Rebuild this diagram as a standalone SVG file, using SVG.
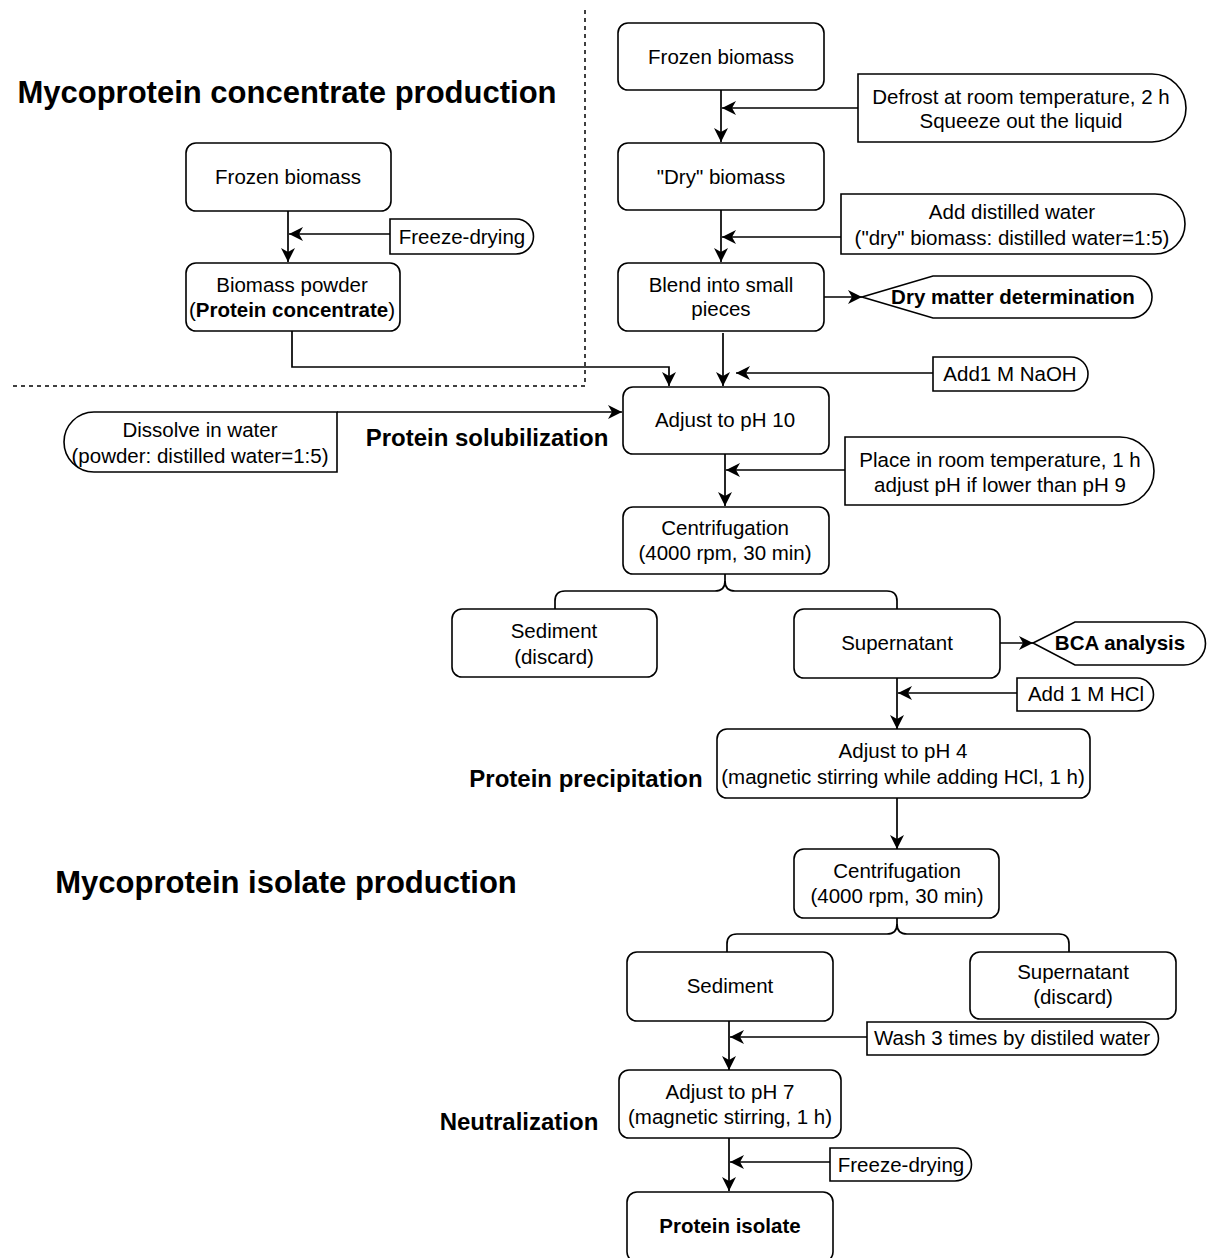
<svg xmlns="http://www.w3.org/2000/svg" width="1208" height="1258" viewBox="0 0 1208 1258">
<style>
.box{fill:#fff;stroke:#000;stroke-width:1.6}
.ln{fill:none;stroke:#000;stroke-width:1.7}
.dash{fill:none;stroke:#000;stroke-width:1.5;stroke-dasharray:4 4}
text{font-family:"Liberation Sans",Arial,Helvetica,sans-serif;fill:#000;text-anchor:middle;dominant-baseline:central}
.t{font-size:20.5px}
.b{font-size:20.5px;font-weight:bold}
.h{font-size:24px;font-weight:bold}
.title{font-size:31px;font-weight:bold}
</style>
<defs>
<marker id="arr" viewBox="0 0 14 14" refX="14" refY="7" markerWidth="14" markerHeight="14" orient="auto" markerUnits="userSpaceOnUse">
<path d="M0,0 L14,7 L0,14 L4,7 Z" fill="#000"/>
</marker>
</defs>
<rect width="1208" height="1258" fill="#fff"/>

<g id="separators">
<path class="dash" d="M585,10 V386 H10"/>
</g>

<g id="headings">
<text class="title" x="287" y="92">Mycoprotein concentrate production</text>
<text class="title" x="286" y="882">Mycoprotein isolate production</text>
<text class="h" x="487" y="437">Protein solubilization</text>
<text class="h" x="586" y="778">Protein precipitation</text>
<text class="h" x="519" y="1121">Neutralization</text>
</g>

<g id="connectors">
<path class="ln" d="M288,211 V262" marker-end="url(#arr)"/>
<path class="ln" d="M390,234 H289" marker-end="url(#arr)"/>
<path class="ln" d="M292,331 V367 H669 V386" marker-end="url(#arr)"/>
<path class="ln" d="M721,90 V142" marker-end="url(#arr)"/>
<path class="ln" d="M858,108 H722" marker-end="url(#arr)"/>
<path class="ln" d="M721,210 V262" marker-end="url(#arr)"/>
<path class="ln" d="M841,237 H722" marker-end="url(#arr)"/>
<path class="ln" d="M824,297 H862" marker-end="url(#arr)"/>
<path class="ln" d="M723,333 V386" marker-end="url(#arr)"/>
<path class="ln" d="M933,373 H736" marker-end="url(#arr)"/>
<path class="ln" d="M337,412 H622" marker-end="url(#arr)"/>
<path class="ln" d="M725,454 V506" marker-end="url(#arr)"/>
<path class="ln" d="M845,470 H726" marker-end="url(#arr)"/>
<path class="ln" d="M725,574 V581 Q725,591 715,591 H565 Q555,591 555,601 V609"/>
<path class="ln" d="M725,581 Q725,591 735,591 H887 Q897,591 897,601 V609"/>
<path class="ln" d="M1000,643 H1033" marker-end="url(#arr)"/>
<path class="ln" d="M897,678 V729" marker-end="url(#arr)"/>
<path class="ln" d="M1017,693 H898" marker-end="url(#arr)"/>
<path class="ln" d="M897,798 V849" marker-end="url(#arr)"/>
<path class="ln" d="M897,918 V924 Q897,934 887,934 H737 Q727,934 727,944 V952"/>
<path class="ln" d="M897,924 Q897,934 907,934 H1059 Q1069,934 1069,944 V952"/>
<path class="ln" d="M729,1021 V1070" marker-end="url(#arr)"/>
<path class="ln" d="M867,1037 H730" marker-end="url(#arr)"/>
<path class="ln" d="M729,1138 V1191" marker-end="url(#arr)"/>
<path class="ln" d="M830,1162 H730" marker-end="url(#arr)"/>
</g>

<g id="frozen-left">
<rect class="box" x="186" y="143" width="205" height="68" rx="10"/>
<text class="t" x="288" y="176">Frozen biomass</text>
</g>
<g id="freeze-drying-left">
<path class="box" d="M390,219 H516 A17.5,17.5 0 0 1 516,254 H390 Z"/>
<text class="t" x="462" y="236">Freeze-drying</text>
</g>
<g id="biomass-powder">
<rect class="box" x="186" y="263" width="214" height="68" rx="10"/>
<text class="t" x="292" y="284">Biomass powder</text>
<text class="t" x="292" y="309">(<tspan font-weight="bold">Protein concentrate</tspan>)</text>
</g>

<g id="frozen-right">
<rect class="box" x="618" y="23" width="206" height="67" rx="10"/>
<text class="t" x="721" y="56">Frozen biomass</text>
</g>
<g id="defrost">
<path class="box" d="M858,74 H1152 A34,34 0 0 1 1152,142 H858 Z"/>
<text class="t" x="1021" y="96">Defrost at room temperature, 2 h</text>
<text class="t" x="1021" y="120">Squeeze out the liquid</text>
</g>
<g id="dry-biomass">
<rect class="box" x="618" y="143" width="206" height="67" rx="10"/>
<text class="t" x="721" y="176">"Dry" biomass</text>
</g>
<g id="add-water">
<path class="box" d="M841,194 H1155 A30,30 0 0 1 1155,254 H841 Z"/>
<text class="t" x="1012" y="211">Add distilled water</text>
<text class="t" x="1012" y="237">("dry" biomass: distilled water=1:5)</text>
</g>
<g id="blend">
<rect class="box" x="618" y="263" width="206" height="68" rx="10"/>
<text class="t" x="721" y="284">Blend into small</text>
<text class="t" x="721" y="308">pieces</text>
</g>
<g id="dry-matter">
<path class="box" d="M862,297 L933,276 H1131 A21,21 0 0 1 1131,318 H933 Z"/>
<text class="b" x="1013" y="296">Dry matter determination</text>
</g>
<g id="naoh">
<path class="box" d="M933,357 H1071 A17,17 0 0 1 1071,391 H933 Z"/>
<text class="t" x="1010" y="373">Add1 M NaOH</text>
</g>
<g id="dissolve">
<path class="box" d="M337,412 H94 A30,30 0 0 0 94,472 H337 Z"/>
<text class="t" x="200" y="429">Dissolve in water</text>
<text class="t" x="200" y="455">(powder: distilled water=1:5)</text>
</g>
<g id="ph10">
<rect class="box" x="623" y="387" width="206" height="67" rx="10"/>
<text class="t" x="725" y="419">Adjust to pH 10</text>
</g>
<g id="place-room">
<path class="box" d="M845,437 H1120 A34,34 0 0 1 1120,505 H845 Z"/>
<text class="t" x="1000" y="459">Place in room temperature, 1 h</text>
<text class="t" x="1000" y="484">adjust pH if lower than pH 9</text>
</g>
<g id="centrifugation1">
<rect class="box" x="623" y="507" width="206" height="67" rx="10"/>
<text class="t" x="725" y="527">Centrifugation</text>
<text class="t" x="725" y="552">(4000 rpm, 30 min)</text>
</g>
<g id="sediment1">
<rect class="box" x="452" y="609" width="205" height="68" rx="10"/>
<text class="t" x="554" y="630">Sediment</text>
<text class="t" x="554" y="656">(discard)</text>
</g>
<g id="supernatant1">
<rect class="box" x="794" y="609" width="206" height="69" rx="10"/>
<text class="t" x="897" y="642">Supernatant</text>
</g>
<g id="bca">
<path class="box" d="M1033,643 L1075,622 H1184 A21.5,21.5 0 0 1 1184,665 H1075 Z"/>
<text class="b" x="1120" y="642">BCA analysis</text>
</g>
<g id="hcl">
<path class="box" d="M1017,678 H1137 A16.5,16.5 0 0 1 1137,711 H1017 Z"/>
<text class="t" x="1086" y="693">Add 1 M HCl</text>
</g>
<g id="ph4">
<rect class="box" x="717" y="729" width="373" height="69" rx="10"/>
<text class="t" x="903" y="750">Adjust to pH 4</text>
<text class="t" x="903" y="776">(magnetic stirring while adding HCl, 1 h)</text>
</g>
<g id="centrifugation2">
<rect class="box" x="794" y="849" width="205" height="69" rx="10"/>
<text class="t" x="897" y="870">Centrifugation</text>
<text class="t" x="897" y="895">(4000 rpm, 30 min)</text>
</g>
<g id="sediment2">
<rect class="box" x="627" y="952" width="206" height="69" rx="10"/>
<text class="t" x="730" y="985">Sediment</text>
</g>
<g id="supernatant2">
<rect class="box" x="970" y="952" width="206" height="67" rx="10"/>
<text class="t" x="1073" y="971">Supernatant</text>
<text class="t" x="1073" y="996">(discard)</text>
</g>
<g id="wash">
<path class="box" d="M867,1022 H1142 A16.5,16.5 0 0 1 1142,1055 H867 Z"/>
<text class="t" x="1012" y="1037">Wash 3 times by distiled water</text>
</g>
<g id="ph7">
<rect class="box" x="619" y="1070" width="222" height="68" rx="10"/>
<text class="t" x="730" y="1091">Adjust to pH 7</text>
<text class="t" x="730" y="1116">(magnetic stirring, 1 h)</text>
</g>
<g id="freeze-drying-right">
<path class="box" d="M830,1148 H955 A16.5,16.5 0 0 1 955,1181 H830 Z"/>
<text class="t" x="901" y="1164">Freeze-drying</text>
</g>
<g id="protein-isolate">
<rect class="box" x="627" y="1192" width="206" height="70" rx="10"/>
<text class="b" x="730" y="1225">Protein isolate</text>
</g>
</svg>
